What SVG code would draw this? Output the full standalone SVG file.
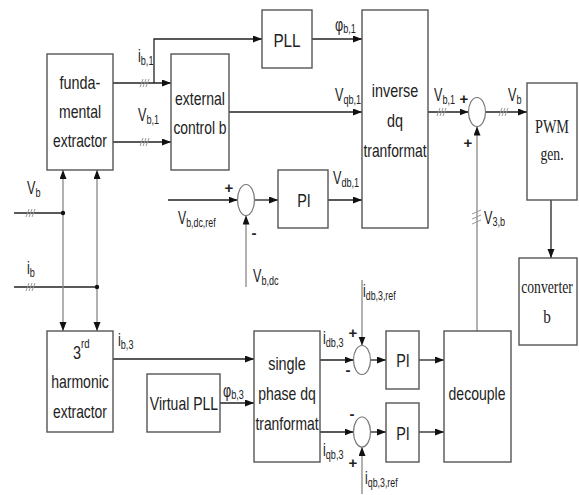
<svg xmlns="http://www.w3.org/2000/svg" width="579" height="495" viewBox="0 0 579 495">
<style>
.box{fill:#fff;stroke:#555;stroke-width:1.4}
.sum{fill:#fff;stroke:#777;stroke-width:1.2}
.ln{fill:none;stroke:#222;stroke-width:1.3}
.lg{fill:none;stroke:#888;stroke-width:1.3}
.sl{stroke:#999;stroke-width:1}
.t{font-family:"Liberation Sans",Arial,sans-serif;font-size:18px;fill:#222;text-anchor:middle}
.s{font-family:"Liberation Serif","Times New Roman",serif;font-size:19px;fill:#222;text-anchor:middle}
.l{font-family:"Liberation Sans",Arial,sans-serif;font-size:18px;fill:#222}
.sub{font-size:13px}
.sg{font-family:"Liberation Sans",Arial,sans-serif;font-size:15px;font-weight:bold;fill:#222;text-anchor:middle}
</style>
<defs>
<marker id="a" markerUnits="userSpaceOnUse" markerWidth="10" markerHeight="8" refX="9" refY="3.5" orient="auto-start-reverse">
<path d="M0,0 L9,3.5 L0,7 z" fill="#111"/>
</marker>
</defs>

<g id="connectors">
<line class="ln" x1="113" y1="83" x2="171" y2="83" marker-end="url(#a)"/>
<line class="ln" x1="113" y1="142" x2="171" y2="142" marker-end="url(#a)"/>
<polyline class="ln" points="154,83 154,39 262,39" marker-end="url(#a)"/>
<line class="ln" x1="312" y1="39" x2="362" y2="39" marker-end="url(#a)"/>
<line class="ln" x1="229" y1="112" x2="362" y2="112" marker-end="url(#a)"/>
<line class="ln" x1="168" y1="200" x2="237.5" y2="200" marker-end="url(#a)"/>
<line class="lg" x1="246" y1="287" x2="246" y2="215.5" marker-end="url(#a)"/>
<line class="ln" x1="254.5" y1="200" x2="278" y2="200" marker-end="url(#a)"/>
<line class="ln" x1="328" y1="200" x2="362" y2="200" marker-end="url(#a)"/>
<line class="ln" x1="428" y1="112" x2="468.5" y2="112" marker-end="url(#a)"/>
<line class="ln" x1="485.5" y1="112" x2="527" y2="112" marker-end="url(#a)"/>
<line class="lg" x1="477" y1="331" x2="477" y2="126.5" marker-end="url(#a)"/>
<line class="ln" x1="551" y1="200" x2="551" y2="258" marker-end="url(#a)"/>
<line class="ln" x1="14" y1="213" x2="63" y2="213"/>
<line class="ln" x1="14" y1="287" x2="97" y2="287"/>
<line class="lg" x1="63" y1="170" x2="63" y2="331" marker-start="url(#a)" marker-end="url(#a)"/>
<line class="lg" x1="97" y1="170" x2="97" y2="331" marker-start="url(#a)" marker-end="url(#a)"/>
<circle cx="63" cy="213" r="2.2" fill="#111"/>
<circle cx="97" cy="287" r="2.2" fill="#111"/>
<line class="ln" x1="113" y1="359" x2="254" y2="359" marker-end="url(#a)"/>
<line class="ln" x1="220" y1="403" x2="254" y2="403" marker-end="url(#a)"/>
<line class="ln" x1="320" y1="360" x2="353.5" y2="360" marker-end="url(#a)"/>
<line class="ln" x1="320" y1="432" x2="353.5" y2="432" marker-end="url(#a)"/>
<line class="lg" x1="362" y1="280" x2="362" y2="345.5" marker-end="url(#a)"/>
<line class="lg" x1="362" y1="494" x2="362" y2="447" marker-end="url(#a)"/>
<line class="ln" x1="370.5" y1="360" x2="386" y2="360" marker-end="url(#a)"/>
<line class="ln" x1="419" y1="360" x2="444" y2="360" marker-end="url(#a)"/>
<line class="ln" x1="370.5" y1="432" x2="386" y2="432" marker-end="url(#a)"/>
<line class="ln" x1="419" y1="432" x2="444" y2="432" marker-end="url(#a)"/>
<g class="sl">
<path d="M140,87 l3,-8 M143,87 l3,-8 M146,87 l3,-8"/>
<path d="M140,146 l3,-8 M143,146 l3,-8 M146,146 l3,-8"/>
<path d="M26,217 l3,-8 M29,217 l3,-8 M32,217 l3,-8"/>
<path d="M26,291 l3,-8 M29,291 l3,-8 M32,291 l3,-8"/>
<path d="M437,116 l3,-8 M440,116 l3,-8 M443,116 l3,-8"/>
<path d="M499,116 l3,-8 M502,116 l3,-8 M505,116 l3,-8"/>
<path d="M472,214 l9,-4 M472,219 l9,-4 M472,224 l9,-4"/>
</g>
</g>

<g id="sum_dc"><ellipse class="sum" cx="246" cy="200" rx="8.5" ry="15.5"/></g>
<g id="sum_out"><ellipse class="sum" cx="477" cy="112" rx="8.5" ry="14.5"/></g>
<g id="sum_d3"><ellipse class="sum" cx="362" cy="360" rx="8.5" ry="14.5"/></g>
<g id="sum_q3"><ellipse class="sum" cx="362" cy="432" rx="8.5" ry="15"/></g>

<g id="fundamental_extractor">
<rect class="box" x="47" y="54" width="66" height="116"/>
<text class="t" transform="translate(80,89) scale(0.8,1)">funda-</text>
<text class="t" transform="translate(80,118) scale(0.78,1)">mental</text>
<text class="t" transform="translate(80,147) scale(0.77,1)">extractor</text>
</g>
<g id="external_control">
<rect class="box" x="171" y="54" width="58" height="116"/>
<text class="t" transform="translate(200,105) scale(0.78,1)">external</text>
<text class="t" transform="translate(200,134) scale(0.77,1)">control b</text>
</g>
<g id="pll">
<rect class="box" x="262" y="10" width="50" height="58"/>
<text class="t" transform="translate(287,47) scale(0.85,1)">PLL</text>
</g>
<g id="inverse_dq">
<rect class="box" x="362" y="10" width="66" height="218"/>
<text class="t" transform="translate(395,97) scale(0.8,1)">inverse</text>
<text class="t" transform="translate(395,127) scale(0.8,1)">dq</text>
<text class="t" transform="translate(395,157) scale(0.77,1)">tranformat</text>
</g>
<g id="pi_dc">
<rect class="box" x="278" y="170" width="50" height="58"/>
<text class="t" transform="translate(304,207) scale(0.8,1)">PI</text>
</g>
<g id="pwm">
<rect class="box" x="527" y="83" width="50" height="117"/>
<text class="s" transform="translate(552,133) scale(0.75,1)">PWM</text>
<text class="s" transform="translate(552,160) scale(0.72,1)">gen.</text>
</g>
<g id="converter">
<rect class="box" x="519" y="258" width="58" height="87"/>
<text class="s" transform="translate(547,293) scale(0.72,1)">converter</text>
<text class="s" transform="translate(547,323) scale(0.8,1)">b</text>
</g>
<g id="harmonic_extractor">
<rect class="box" x="47" y="331" width="66" height="101"/>
<text class="t" transform="translate(77,359) scale(0.8,1)">3</text>
<text class="l" transform="translate(81,348) scale(0.8,1)" style="font-size:12px">rd</text>
<text class="t" transform="translate(80,388) scale(0.78,1)">harmonic</text>
<text class="t" transform="translate(80,418) scale(0.77,1)">extractor</text>
</g>
<g id="virtual_pll">
<rect class="box" x="147" y="374" width="73" height="58"/>
<text class="t" transform="translate(184,410) scale(0.78,1)">Virtual PLL</text>
</g>
<g id="single_phase_dq">
<rect class="box" x="254" y="331" width="66" height="131"/>
<text class="t" transform="translate(287,370) scale(0.8,1)">single</text>
<text class="t" transform="translate(287,400) scale(0.78,1)">phase dq</text>
<text class="t" transform="translate(287,430) scale(0.77,1)">tranformat</text>
</g>
<g id="pi_d3">
<rect class="box" x="386" y="331" width="33" height="58"/>
<text class="t" transform="translate(403,367) scale(0.8,1)">PI</text>
</g>
<g id="pi_q3">
<rect class="box" x="386" y="403" width="33" height="59"/>
<text class="t" transform="translate(403,440) scale(0.8,1)">PI</text>
</g>
<g id="decouple">
<rect class="box" x="444" y="331" width="67" height="131"/>
<text class="t" transform="translate(477,400) scale(0.78,1)">decouple</text>
</g>

<g id="labels">
<text class="l" transform="translate(138,62) scale(0.7,1)">i<tspan class="sub" dy="3">b,1</tspan></text>
<text class="l" transform="translate(138,121) scale(0.7,1)">V<tspan class="sub" dy="3">b,1</tspan></text>
<text class="l" transform="translate(335,31) scale(0.7,1)">φ<tspan class="sub" dy="2">b,1</tspan></text>
<text class="l" transform="translate(335,101) scale(0.7,1)">V<tspan class="sub" dy="3">qb,1</tspan></text>
<text class="l" transform="translate(333,184) scale(0.7,1)">V<tspan class="sub" dy="3">db,1</tspan></text>
<text class="l" transform="translate(434,101) scale(0.7,1)">V<tspan class="sub" dy="3">b,1</tspan></text>
<text class="l" transform="translate(508,101) scale(0.7,1)">V<tspan class="sub" dy="3">b</tspan></text>
<text class="l" transform="translate(484,224) scale(0.7,1)">V<tspan class="sub" dy="2">3,b</tspan></text>
<text class="l" transform="translate(27,194) scale(0.7,1)">V<tspan class="sub" dy="3">b</tspan></text>
<text class="l" transform="translate(27,274) scale(0.7,1)">i<tspan class="sub" dy="3">b</tspan></text>
<text class="l" transform="translate(178,224) scale(0.68,1)">V<tspan class="sub" dy="3">b,dc,ref</tspan></text>
<text class="l" transform="translate(253,282) scale(0.7,1)">V<tspan class="sub" dy="3">b,dc</tspan></text>
<text class="l" transform="translate(118,346) scale(0.7,1)">i<tspan class="sub" dy="3">b,3</tspan></text>
<text class="l" transform="translate(223,397) scale(0.7,1)">φ<tspan class="sub" dy="2">b,3</tspan></text>
<text class="l" transform="translate(323,344) scale(0.7,1)">i<tspan class="sub" dy="3">db,3</tspan></text>
<text class="l" transform="translate(323,456) scale(0.7,1)">i<tspan class="sub" dy="3">qb,3</tspan></text>
<text class="l" transform="translate(363,297) scale(0.68,1)">i<tspan class="sub" dy="3">db,3,ref</tspan></text>
<text class="l" transform="translate(365,484) scale(0.68,1)">i<tspan class="sub" dy="3">qb,3,ref</tspan></text>
<text class="sg" x="229" y="193">+</text>
<text class="sg" x="254" y="238">-</text>
<text class="sg" x="464" y="104">+</text>
<text class="sg" x="468" y="148">+</text>
<text class="sg" x="353" y="338">+</text>
<text class="sg" x="348" y="375">-</text>
<text class="sg" x="352" y="419">-</text>
<text class="sg" x="353" y="468">+</text>
</g>
</svg>
